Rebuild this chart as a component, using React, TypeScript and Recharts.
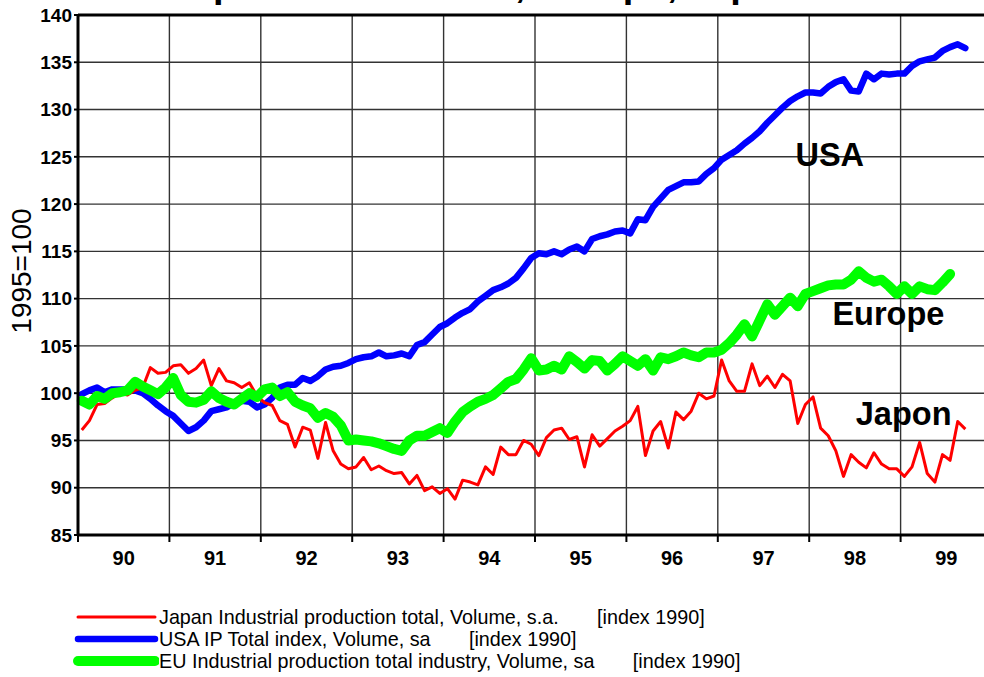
import { LineChart, Line, XAxis, YAxis, CartesianGrid, ReferenceLine, ReferenceDot, Legend } from 'recharts';

// monthly index values, Jan 1990 onward (1990 = 100)
const japan = [
  96.1, 97.1, 98.8, 98.9, 99.5, 100.0, 99.8, 100.3, 100.6, 102.7,
  102.1, 102.2, 102.9, 103.0, 102.1, 102.6, 103.5, 100.8, 102.6, 101.3,
  101.1, 100.6, 101.1, 99.7, 99.0, 98.7, 97.1, 96.7, 94.3, 96.4,
  96.1, 93.1, 96.9, 93.9, 92.5, 92.0, 92.2, 93.2, 91.9, 92.3,
  91.8, 91.5, 91.6, 90.4, 91.3, 89.7, 90.1, 89.4, 89.9, 88.8,
  90.8, 90.6, 90.3, 92.2, 91.4, 94.3, 93.5, 93.5, 95.0, 94.6,
  93.4, 95.3, 96.1, 96.3, 95.1, 95.4, 92.2, 95.6, 94.4, 95.2,
  96.0, 96.5, 97.1, 98.6, 93.4, 96.0, 97.0, 94.2, 98.0, 97.2,
  98.1, 100.0, 99.4, 99.7, 103.5, 101.3, 100.2, 100.2, 103.1, 100.8,
  101.8, 100.6, 102.0, 101.3, 96.8, 98.8, 99.6, 96.3, 95.5, 93.9,
  91.2, 93.5, 92.7, 92.1, 93.7, 92.5, 92.0, 92.0, 91.2, 92.2,
  94.8, 91.5, 90.6, 93.5, 92.9, 97.0, 96.2,
];

const usa = [
  99.9, 100.3, 100.6, 100.1, 100.4, 100.4, 100.4, 100.3, 100.0, 99.4,
  98.7, 98.1, 97.6, 96.8, 96.0, 96.4, 97.1, 98.1, 98.3, 98.5,
  99.0, 99.2, 99.1, 98.5, 98.8, 99.5, 100.6, 100.9, 100.9, 101.6,
  101.3, 101.8, 102.5, 102.8, 102.9, 103.2, 103.6, 103.8, 103.9, 104.3,
  103.9, 104.0, 104.2, 103.9, 105.1, 105.4, 106.2, 107.0, 107.4, 108.0,
  108.5, 108.9, 109.7, 110.3, 110.9, 111.2, 111.6, 112.2, 113.2, 114.3,
  114.8, 114.7, 115.0, 114.7, 115.2, 115.5, 115.0, 116.3, 116.6, 116.8,
  117.1, 117.2, 116.9, 118.4, 118.3, 119.7, 120.6, 121.5, 121.9, 122.3,
  122.3, 122.4, 123.2, 123.8, 124.7, 125.2, 125.7, 126.4, 127.0, 127.7,
  128.6, 129.4, 130.2, 130.9, 131.4, 131.8, 131.8, 131.7, 132.4, 132.9,
  133.2, 132.0, 131.9, 133.8, 133.2, 133.8, 133.7, 133.8, 133.8, 134.6,
  135.1, 135.3, 135.5, 136.2, 136.6, 136.9, 136.5,
];

const europe = [
  99.2, 98.8, 99.7, 99.4, 100.0, 100.1, 100.3, 101.2, 100.7, 100.3,
  99.9, 100.6, 101.6, 99.8, 99.1, 99.0, 99.3, 100.2, 99.5, 99.1,
  98.8, 99.4, 100.0, 99.6, 100.4, 100.6, 99.7, 100.1, 99.1, 98.7,
  98.4, 97.4, 97.9, 97.5, 96.6, 95.0, 95.1, 95.0, 94.9, 94.7,
  94.4, 94.1, 93.9, 95.0, 95.5, 95.5, 95.9, 96.3, 95.8, 97.0,
  98.0, 98.6, 99.1, 99.4, 99.8, 100.5, 101.2, 101.5, 102.5, 103.7,
  102.4, 102.5, 102.9, 102.5, 103.9, 103.3, 102.6, 103.5, 103.4, 102.4,
  103.1, 103.9, 103.4, 102.9, 103.6, 102.4, 103.8, 103.6, 103.9, 104.3,
  104.0, 103.8, 104.3, 104.3, 104.6, 105.3, 106.2, 107.3, 106.0, 107.7,
  109.4, 108.3, 109.2, 110.1, 109.2, 110.5, 110.8, 111.1, 111.4, 111.5,
  111.5, 112.0, 112.9, 112.2, 111.8, 112.0, 111.3, 110.5, 111.3, 110.5,
  111.3, 111.0, 110.9, 111.7, 112.6,
];

const yearLabels = ['90', '91', '92', '93', '94', '95', '96', '97', '98', '99'];
const yearStarts = [0, 12, 24, 36, 48, 60, 72, 84, 96, 108];
const yTicks = [85, 90, 95, 100, 105, 110, 115, 120, 125, 130, 135, 140];

const seriesNames = {
  japan: 'Japan Industrial production total, Volume, s.a.       [index 1990]',
  usa: 'USA IP Total index, Volume, sa       [index 1990]',
  europe: 'EU Industrial production total industry, Volume, sa       [index 1990]',
};
const legendOrder = ['japan', 'usa', 'europe'];

const rows = japan.map((v, i) => ({
  t: i + 0.5,
  japan: v,
  usa: usa[i],
  europe: europe[i],
}));

const CHART_W = 1000;
const CHART_H = 677;
const MARGIN = { top: 15, right: 8, bottom: 0, left: 0 };
const Y_AXIS_W = 78;
const X_AXIS_H = 142;
const YEAR_W = (CHART_W - MARGIN.left - MARGIN.right - Y_AXIS_W) / 10;
const FONT = '"Liberation Sans", Arial, sans-serif';

const lineStyle: Record<string, { color: string; width: number }> = {
  japan: { color: '#ff0000', width: 3 },
  usa: { color: '#0000ff', width: 6.5 },
  europe: { color: '#00ff00', width: 10 },
};

function YearTick(props: any) {
  const { x, y, payload } = props;
  const idx = yearStarts.indexOf(payload.value);
  if (idx < 0) return null;
  return (
    <text
      x={x + YEAR_W / 2}
      y={y + 21}
      textAnchor="middle"
      fontFamily={FONT}
      fontWeight="bold"
      fontSize={20}
      fill="#000"
    >
      {yearLabels[idx]}
    </text>
  );
}

function LegendRows(props: any) {
  const items = [...(props.payload || [])].sort(
    (a: any, b: any) => legendOrder.indexOf(a.dataKey) - legendOrder.indexOf(b.dataKey)
  );
  return (
    <div style={{ fontFamily: FONT, fontSize: 19.75, color: '#000' }}>
      {items.map((it: any) => {
        const st = lineStyle[it.dataKey];
        return (
          <div key={it.dataKey} style={{ display: 'flex', alignItems: 'center', height: 22 }}>
            <svg width={86} height={14} style={{ display: 'block' }}>
              <line x1={5} x2={82} y1={7} y2={7} stroke={st.color} strokeWidth={st.width} strokeLinecap="round" />
            </svg>
            <span style={{ whiteSpace: 'pre' }}>{it.value}</span>
          </div>
        );
      })}
    </div>
  );
}

const annotationStyle = { fontSize: 32.5, fontWeight: 'bold', fill: '#000', fontFamily: FONT };

export default function App() {
  return (
    <div style={{ position: 'absolute', left: 0, top: 0, width: 984, height: 677, overflow: 'hidden', background: '#fff' }}>
      <div
        style={{
          position: 'absolute', left: 0, top: -34, width: 800, textAlign: 'right',
          fontFamily: FONT, fontWeight: 'bold', fontSize: 38, lineHeight: '36px', whiteSpace: 'nowrap',
        }}
      >
        Industrial production: USA, Europe, Japon
      </div>
      <LineChart width={CHART_W} height={CHART_H} data={rows} margin={MARGIN}>
        <CartesianGrid stroke="#333" strokeWidth={1.4} />
        <XAxis
          dataKey="t"
          type="number"
          domain={[0, 120]}
          ticks={yearStarts}
          interval={0}
          height={X_AXIS_H}
          tick={<YearTick />}
          tickSize={7}
          tickMargin={2}
          tickLine={{ stroke: '#000', strokeWidth: 2 }}
          axisLine={{ stroke: '#000', strokeWidth: 3 }}
        />
        <YAxis
          type="number"
          domain={[85, 140]}
          ticks={yTicks}
          interval={0}
          width={Y_AXIS_W}
          tickSize={4}
          tickMargin={2}
          tick={{ fill: '#000', fontSize: 19, fontWeight: 'bold', fontFamily: FONT }}
          tickLine={{ stroke: '#000', strokeWidth: 2 }}
          axisLine={{ stroke: '#000', strokeWidth: 3 }}
          label={{
            content: (p: any) => {
              const vb = p.viewBox || { x: 0, y: 0, height: 520 };
              const cx = vb.x + 21;
              const cy = vb.y + vb.height / 2 - 4;
              return (
                <text
                  x={cx}
                  y={cy}
                  transform={`rotate(-90 ${cx} ${cy})`}
                  textAnchor="middle"
                  dominantBaseline="central"
                  fontFamily={FONT}
                  fontSize={28}
                  fill="#000"
                >
                  1995=100
                </text>
              );
            },
          }}
        />
        <ReferenceLine y={140} stroke="#000" strokeWidth={3} />
        <Line
          dataKey="usa"
          name={seriesNames.usa}
          stroke={lineStyle.usa.color}
          strokeWidth={lineStyle.usa.width}
          strokeLinejoin="round"
          strokeLinecap="round"
          dot={false}
          activeDot={false}
          isAnimationActive={false}
        />
        <Line
          dataKey="japan"
          name={seriesNames.japan}
          stroke={lineStyle.japan.color}
          strokeWidth={lineStyle.japan.width}
          strokeLinejoin="round"
          dot={false}
          activeDot={false}
          isAnimationActive={false}
        />
        <Line
          dataKey="europe"
          name={seriesNames.europe}
          stroke={lineStyle.europe.color}
          strokeWidth={lineStyle.europe.width}
          strokeLinejoin="round"
          strokeLinecap="round"
          dot={false}
          activeDot={false}
          isAnimationActive={false}
        />
        <ReferenceDot x={98.7} y={125.2} r={1} fill="none" stroke="none"
          label={{ value: 'USA', position: 'center', ...annotationStyle }} />
        <ReferenceDot x={106.4} y={108.4} r={1} fill="none" stroke="none"
          label={{ value: 'Europe', position: 'center', ...annotationStyle }} />
        <ReferenceDot x={108.4} y={97.9} r={1} fill="none" stroke="none"
          label={{ value: 'Japon', position: 'center', ...annotationStyle }} />
        <Legend
          layout="vertical"
          align="center"
          verticalAlign="middle"
          content={<LegendRows />}
          wrapperStyle={{ left: 73, top: 606, width: 880, height: 'auto' }}
        />
      </LineChart>
    </div>
  );
}
